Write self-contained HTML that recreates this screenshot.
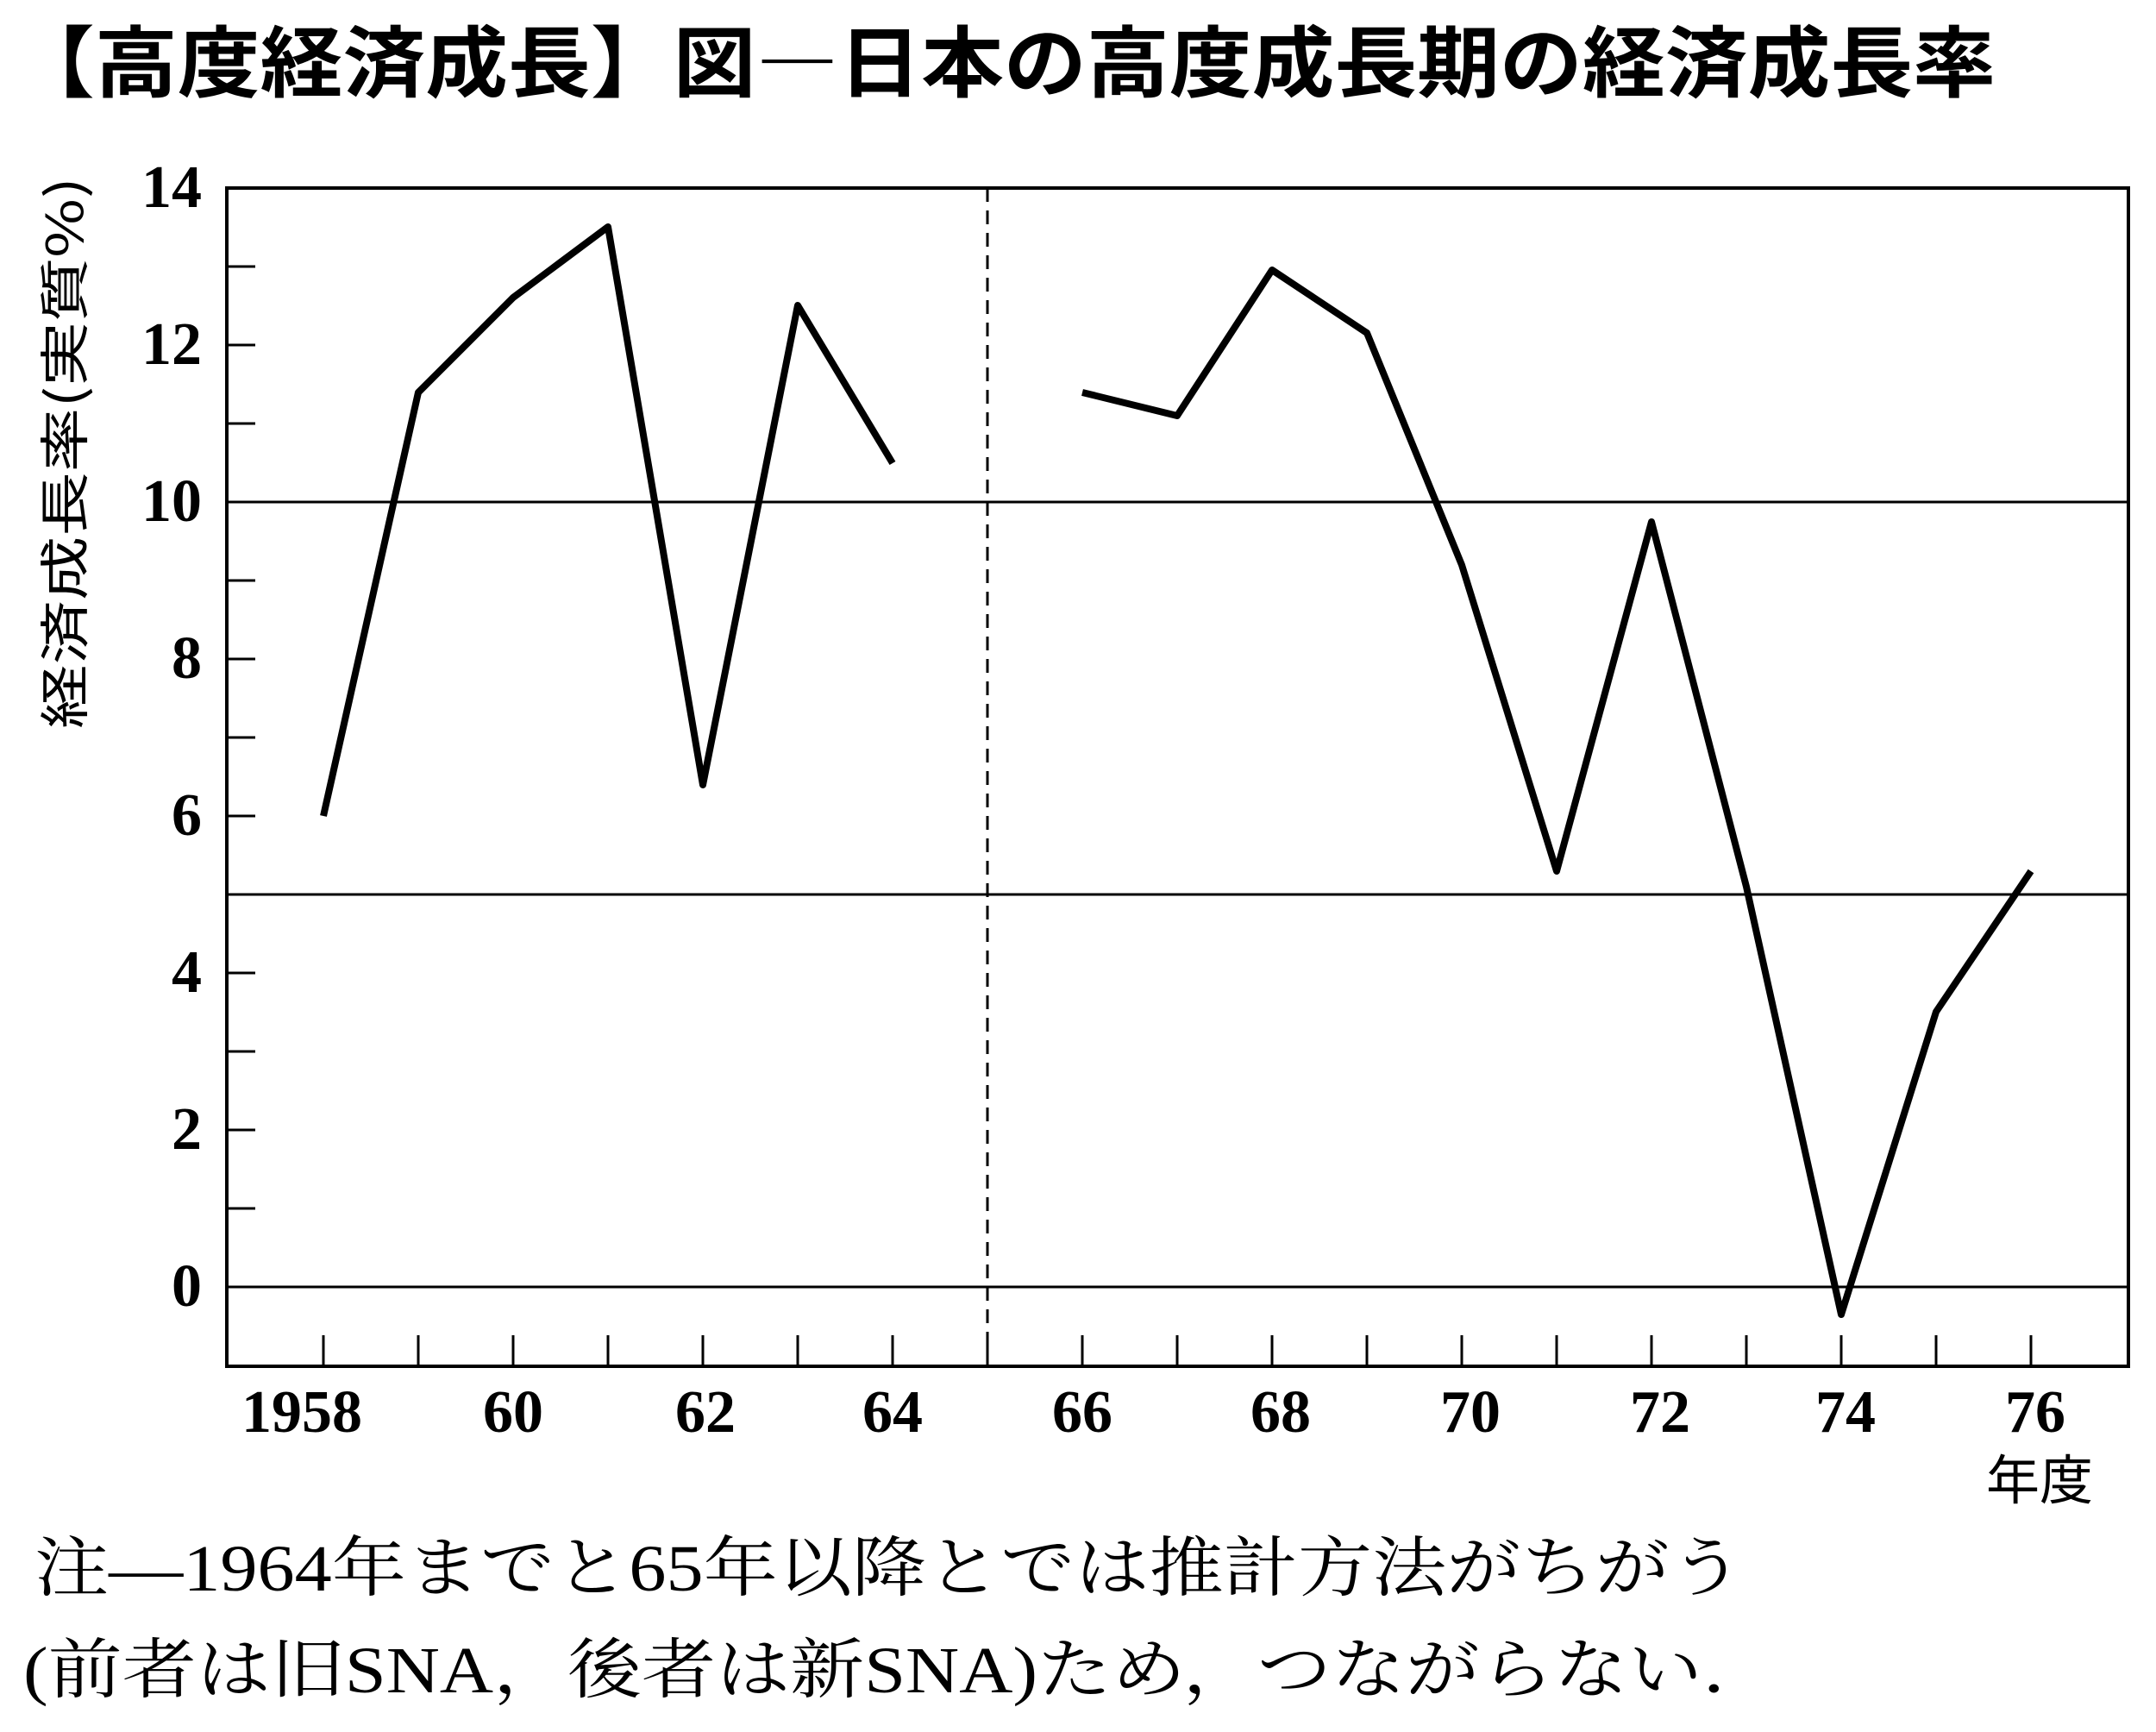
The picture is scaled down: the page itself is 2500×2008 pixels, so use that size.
<!DOCTYPE html>
<html><head><meta charset="utf-8"><style>
html,body{margin:0;padding:0;background:#fff;}
svg{display:block;}
</style></head><body>
<svg xmlns="http://www.w3.org/2000/svg" width="2500" height="2008" viewBox="0 0 2500 2008">
<rect width="2500" height="2008" fill="#fff"/>
<text x="14" y="105" font-family="'Noto Sans CJK JP',sans-serif" font-weight="bold" font-size="90" textLength="2300" lengthAdjust="spacingAndGlyphs">【高度経済成長】図―日本の高度成長期の経済成長率</text>
<text transform="translate(96,845) rotate(-90)" font-family="'Noto Sans CJK JP',sans-serif" font-size="58" textLength="640" lengthAdjust="spacingAndGlyphs">経済成長率(実質%)</text>
<g stroke="#000" fill="none">
<rect x="263" y="218" width="2205" height="1366" stroke-width="4"/>
<line x1="263" y1="582" x2="2468" y2="582" stroke-width="3"/>
<line x1="263" y1="1037" x2="2468" y2="1037" stroke-width="3"/>
<line x1="263" y1="1492" x2="2468" y2="1492" stroke-width="3"/>
<line x1="1145" y1="218" x2="1145" y2="1584" stroke-width="3" stroke-dasharray="16,10"/>
<g stroke-width="3">
<line x1="263" y1="309" x2="296" y2="309"/><line x1="263" y1="400" x2="296" y2="400"/><line x1="263" y1="491" x2="296" y2="491"/>
<line x1="263" y1="673" x2="296" y2="673"/><line x1="263" y1="764" x2="296" y2="764"/><line x1="263" y1="855" x2="296" y2="855"/><line x1="263" y1="946" x2="296" y2="946"/>
<line x1="263" y1="1128" x2="296" y2="1128"/><line x1="263" y1="1219" x2="296" y2="1219"/><line x1="263" y1="1310" x2="296" y2="1310"/><line x1="263" y1="1401" x2="296" y2="1401"/>
</g>
<path stroke-width="3" d="M375 1584v-36M485 1584v-36M595 1584v-36M705 1584v-36M815 1584v-36M925 1584v-36M1035 1584v-36M1145 1584v-36M1255 1584v-36M1365 1584v-36M1475 1584v-36M1585 1584v-36M1695 1584v-36M1805 1584v-36M1915 1584v-36M2025 1584v-36M2135 1584v-36M2245 1584v-36M2355 1584v-36"/>
<polyline stroke-width="8" stroke-linejoin="round" points="375,946 485,455 540,400 595,345 650,304 705,263 815,910 925,354 1035,537"/>
<polyline stroke-width="8" stroke-linejoin="round" points="1255,455 1365,482 1475,313 1585,386 1695,655 1805,1010 1915,605 2025,1028 2135,1524 2245,1173 2355,1010"/>
</g>
<g font-family="'Liberation Serif',serif" font-weight="bold" font-size="70" text-anchor="end">
<text x="234" y="240">14</text><text x="234" y="422">12</text><text x="234" y="604">10</text>
<text x="234" y="786">8</text><text x="234" y="968">6</text><text x="234" y="1150">4</text>
<text x="234" y="1332">2</text><text x="234" y="1514">0</text>
</g>
<g font-family="'Liberation Serif',serif" font-weight="bold" font-size="70" text-anchor="middle">
<text x="350" y="1660">1958</text><text x="595" y="1660">60</text><text x="818" y="1660">62</text><text x="1035" y="1660">64</text>
<text x="1255" y="1660">66</text><text x="1485" y="1660">68</text><text x="1705" y="1660">70</text><text x="1925" y="1660">72</text>
<text x="2140" y="1660">74</text><text x="2360" y="1660">76</text>
</g>
<text x="2365" y="1738" text-anchor="middle" font-family="'Noto Sans CJK JP',sans-serif" font-size="62">年度</text>
<text x="40" y="1844" font-family="'Liberation Serif','Noto Serif CJK SC',serif" font-size="76" textLength="1982" lengthAdjust="spacingAndGlyphs">注―1964年までと65年以降とでは推計方法がちがう</text>
<text x="27" y="1962" font-family="'Liberation Serif','Noto Serif CJK SC',serif" font-size="76" textLength="2033" lengthAdjust="spacingAndGlyphs">(前者は旧SNA，後者は新SNA)ため，つながらない．</text>
</svg>
</body></html>
